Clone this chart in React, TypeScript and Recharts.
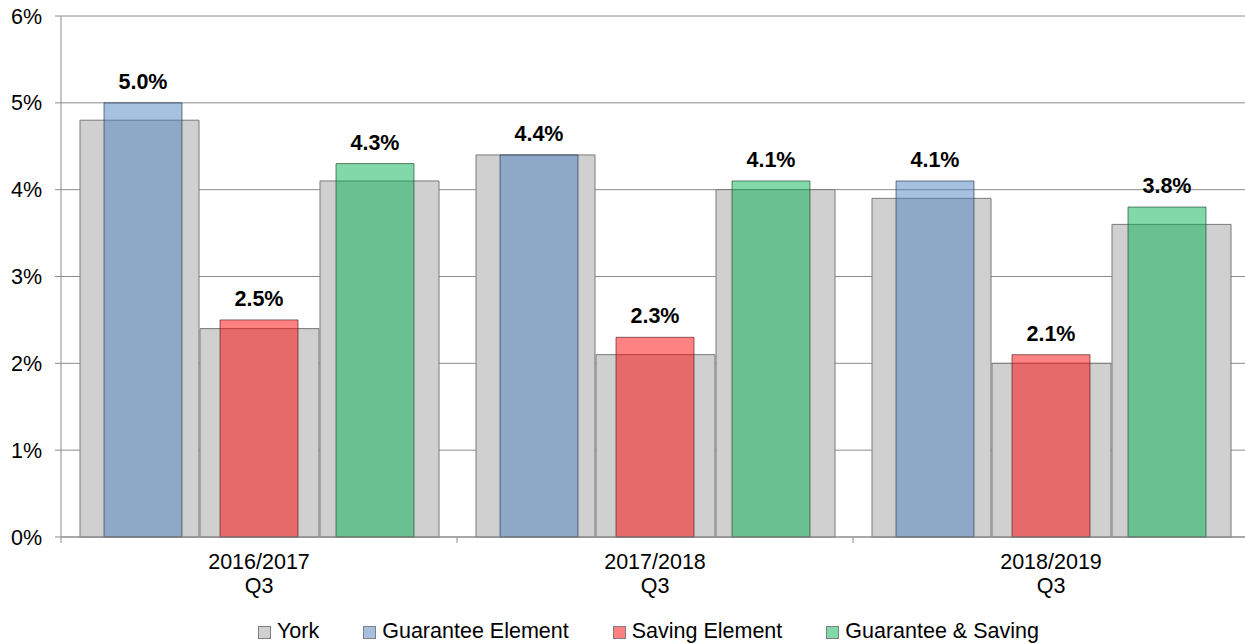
import React from 'react';
import { BarChart, Bar, XAxis, YAxis, CartesianGrid, LabelList } from 'recharts';

const periods = ['2016/2017', '2017/2018', '2018/2019'];
const quarters = ['Q3', 'Q3', 'Q3'];

// York comparison bars (wide, grey, behind)
const yorkGuarantee = [4.8, 4.4, 3.9];
const yorkSaving = [2.4, 2.1, 2.0];
const yorkBoth = [4.1, 4.0, 3.6];

// front bars
const guarantee = [5.0, 4.4, 4.1];
const saving = [2.5, 2.3, 2.1];
const both = [4.3, 4.1, 3.8];

const yTicks = [0, 1, 2, 3, 4, 5, 6];

const data = periods.map((p, i) => ({
  label: p,
  quarter: quarters[i],
  yg: yorkGuarantee[i],
  ys: yorkSaving[i],
  yb: yorkBoth[i],
  g: guarantee[i],
  s: saving[i],
  b: both[i],
  gap: 0,
}));

const FONT = '"Liberation Sans", Arial, sans-serif';
const AXIS = '#8c8c8c';

const legendItems = [
  { name: 'York', fill: '#d0d0d0' },
  { name: 'Guarantee Element', fill: '#a7c0e0' },
  { name: 'Saving Element', fill: '#ff8080' },
  { name: 'Guarantee & Saving', fill: '#80d8a8' },
];

// category label + tick marks on the band edges
const PeriodTick = (props: any) => {
  const { x, y, payload, index } = props;
  const half = payload.offset ?? 0;
  const last = index === periods.length - 1;
  return (
    <g>
      <line x1={x - half} y1={y} x2={x - half} y2={y + 6} stroke={AXIS} />
      {last && <line x1={x + half} y1={y} x2={x + half} y2={y + 6} stroke={AXIS} />}
      <text x={x} y={y} textAnchor="middle" fill="#000" fontSize={21.5} fontFamily={FONT}>
        <tspan x={x} dy={32}>{payload.value}</tspan>
        <tspan x={x} dy={24}>{quarters[index] ?? 'Q3'}</tspan>
      </text>
    </g>
  );
};

const fmt = (v: any) => `${Number(v).toFixed(1)}%`;

const labelStyle = { fontSize: 21.5, fontWeight: 700, fill: '#000', fontFamily: FONT };

const App: React.FC = () => {
  return (
    <div style={{ position: 'absolute', left: 0, top: 0, width: 1250, height: 644, fontFamily: FONT }}>
      <BarChart
        width={1250}
        height={644}
        data={data}
        margin={{ top: 16, right: 1, left: 0, bottom: 47 }}
        barGap={1}
        barCategoryGap={0}
      >
        <CartesianGrid vertical={false} stroke={AXIS} xAxisId="main" />
        <XAxis
          xAxisId="main"
          dataKey="label"
          height={60}
          axisLine={{ stroke: AXIS }}
          tickLine={false}
          tickSize={0}
          tickMargin={0}
          interval={0}
          tick={<PeriodTick />}
        />
        <XAxis xAxisId="overlay" dataKey="label" height={0} hide />
        <YAxis
          width={61}
          domain={[0, 6]}
          ticks={yTicks}
          tickFormatter={(v) => `${v}%`}
          tickSize={6}
          tickMargin={13}
          axisLine={{ stroke: AXIS }}
          tickLine={{ stroke: AXIS }}
          tick={{ fill: '#000', fontSize: 21.5, fontFamily: FONT }}
        />

        <Bar xAxisId="main" dataKey="yg" barSize={119} fill="#d0d0d0" stroke="#7a7a7a" isAnimationActive={false} />
        <Bar xAxisId="main" dataKey="ys" barSize={119} fill="#d0d0d0" stroke="#7a7a7a" isAnimationActive={false} />
        <Bar xAxisId="main" dataKey="yb" barSize={119} fill="#d0d0d0" stroke="#7a7a7a" isAnimationActive={false} />

        <Bar xAxisId="overlay" dataKey="g" barSize={78} fill="#4a7ec0" fillOpacity={0.49} stroke="#1a2a40" strokeOpacity={0.6} isAnimationActive={false}>
          <LabelList dataKey="g" position="top" offset={14} formatter={fmt} style={labelStyle} />
        </Bar>
        <Bar xAxisId="overlay" dataKey="gap" barSize={36} fill="none" isAnimationActive={false} />
        <Bar xAxisId="overlay" dataKey="s" barSize={78} fill="#ff0000" fillOpacity={0.49} stroke="#401010" strokeOpacity={0.6} isAnimationActive={false}>
          <LabelList dataKey="s" position="top" offset={14} formatter={fmt} style={labelStyle} />
        </Bar>
        <Bar xAxisId="overlay" dataKey="gap" barSize={36} fill="none" isAnimationActive={false} />
        <Bar xAxisId="overlay" dataKey="b" barSize={78} fill="#00b050" fillOpacity={0.49} stroke="#103a20" strokeOpacity={0.6} isAnimationActive={false}>
          <LabelList dataKey="b" position="top" offset={14} formatter={fmt} style={labelStyle} />
        </Bar>
      </BarChart>

      <div
        style={{
          position: 'absolute',
          left: 258,
          top: 619,
          display: 'flex',
          alignItems: 'center',
          gap: 44,
          fontSize: 21.5,
          lineHeight: '24px',
          color: '#000',
          whiteSpace: 'nowrap',
        }}
      >
        {legendItems.map((it) => (
          <div key={it.name} style={{ display: 'flex', alignItems: 'center' }}>
            <span
              style={{
                display: 'inline-block',
                width: 11,
                height: 11,
                background: it.fill,
                border: '1px solid #7f7f7f',
                marginRight: 6,
                marginTop: 2,
              }}
            />
            <span>{it.name}</span>
          </div>
        ))}
      </div>
    </div>
  );
};

export default App;
